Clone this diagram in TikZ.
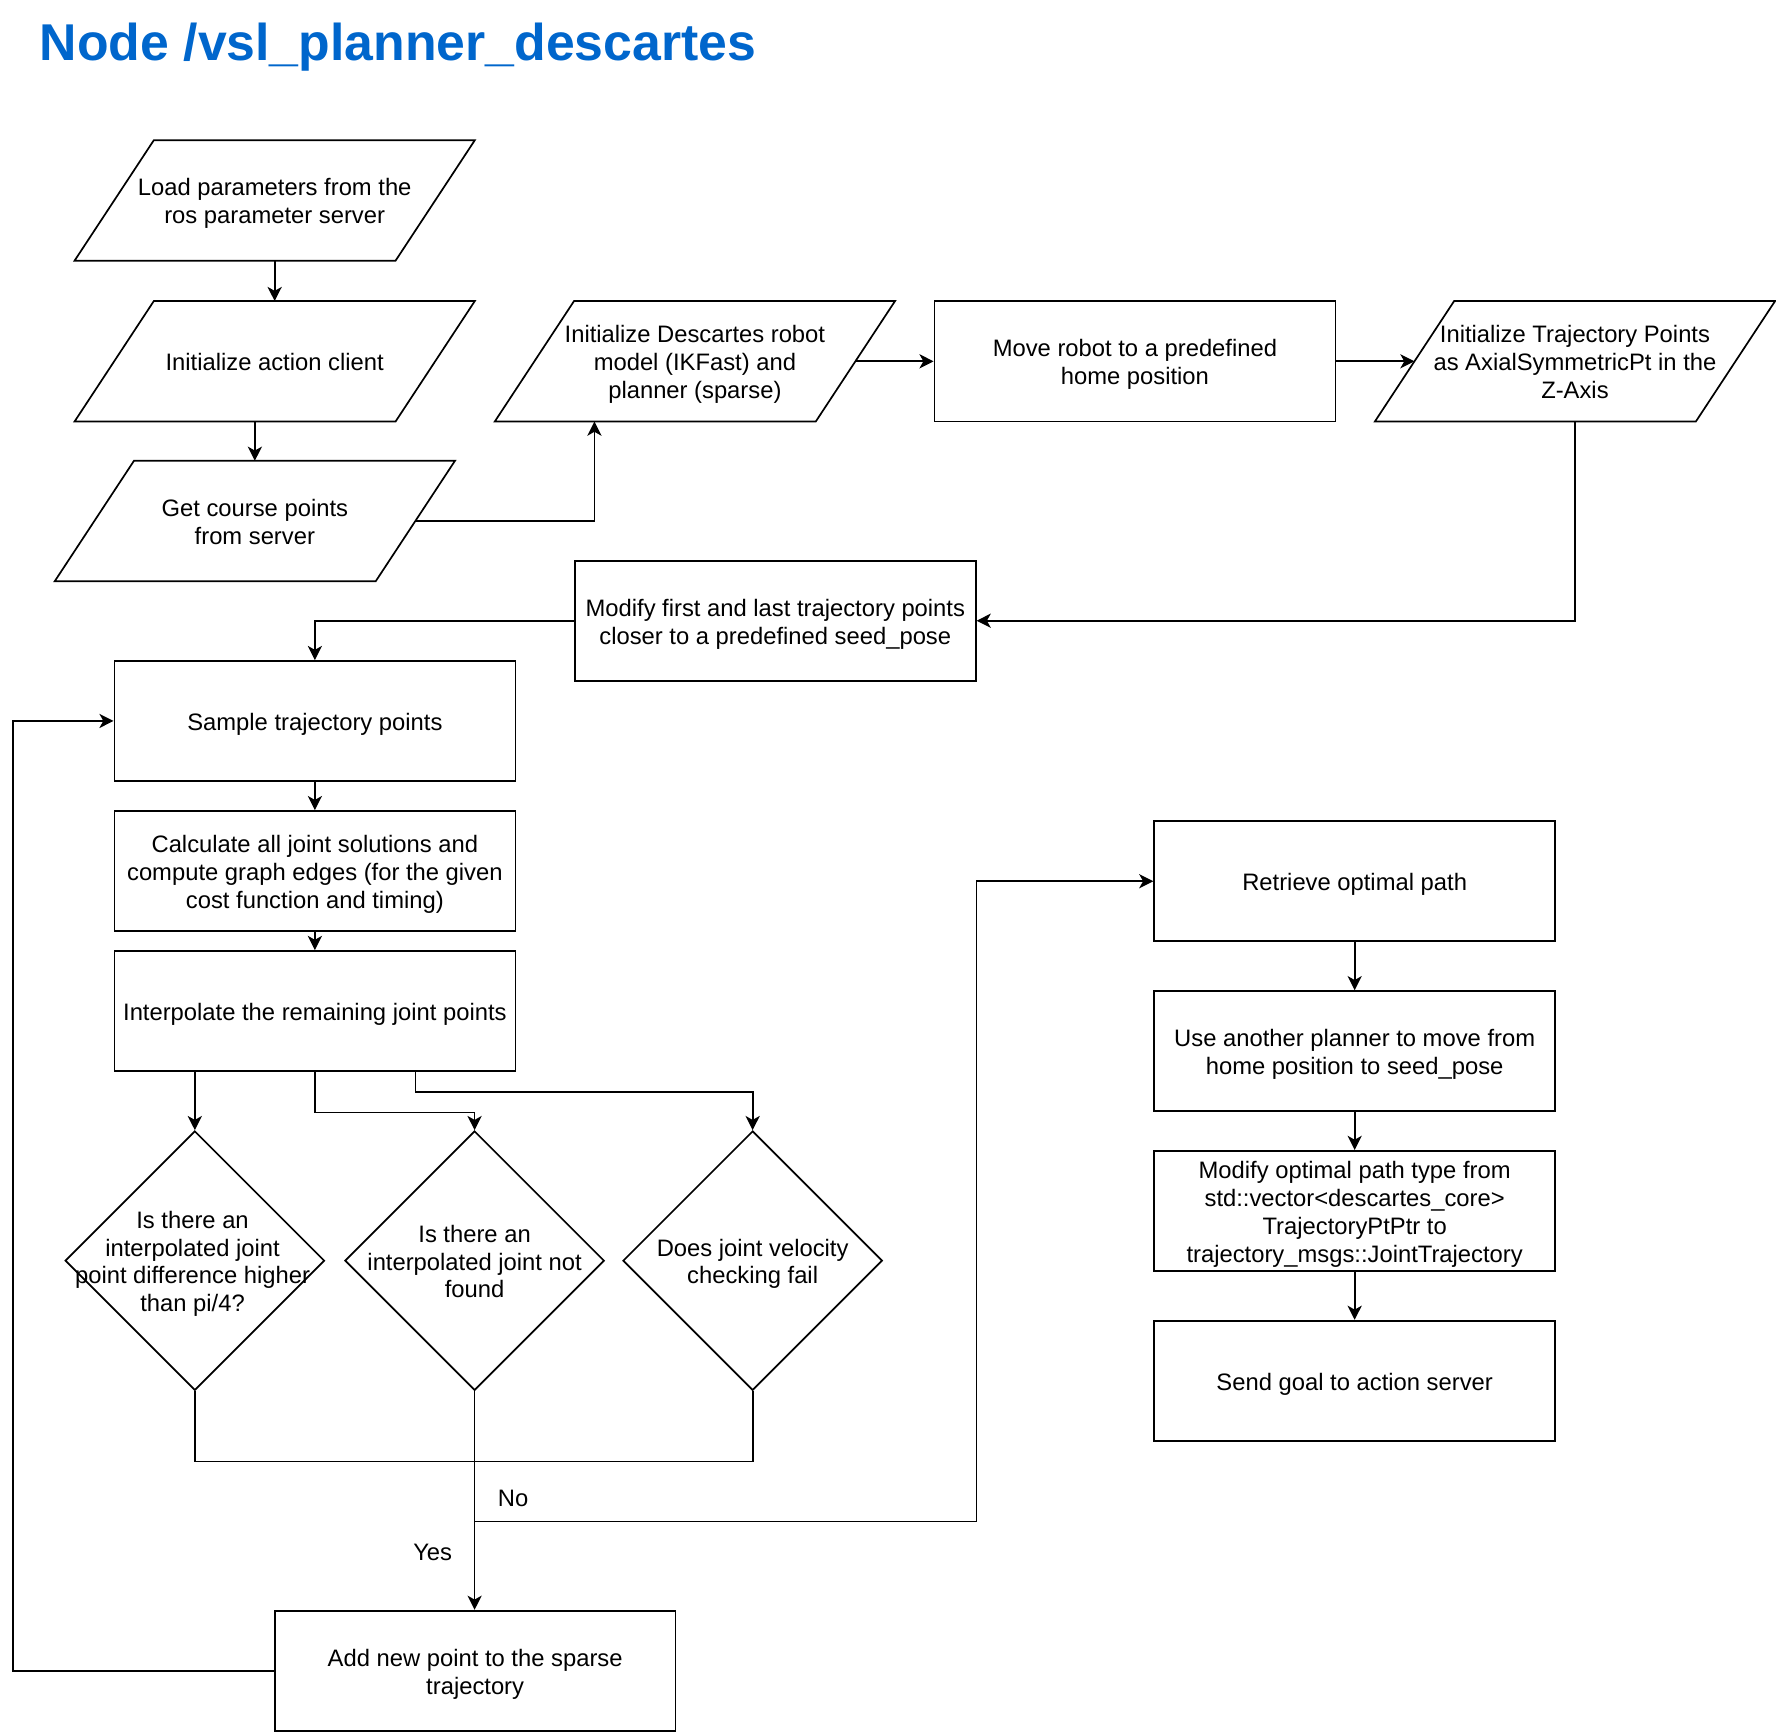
\documentclass[tikz,border=0pt]{standalone}
\usepackage{fontspec}
\setmainfont{Liberation Sans}
\usetikzlibrary{arrows.meta,calc,shapes.geometric}
\definecolor{titleblue}{RGB}{0,102,204}
\newcommand{\tstr}{\rule{0pt}{22.5pt}}
\newcommand{\bstr}{\rule[-6pt]{0pt}{0pt}}
\begin{document}
\begin{tikzpicture}[x=1pt,y=-1pt,
  every node/.style={font=\fontsize{21}{24.7}\selectfont, inner sep=0pt},
  box/.style={draw, line width=1.5pt, minimum width=354pt, minimum height=106pt, align=center},
  parabox/.style={minimum width=353pt, minimum height=106pt, align=center},
  dia/.style={draw, diamond, line width=1.5pt, minimum width=229pt, minimum height=229pt},
  line/.style={line width=1.5pt},
  arr/.style={line, -{Stealth[length=12.5pt,width=12.5pt,inset=3.5pt]}},
  para/.style={line width=1.5pt, line join=miter}
]
\useasboundingbox (0,0) rectangle (1568,1529);

\node[anchor=base west, font=\fontsize{45.7}{50}\selectfont\bfseries, text=titleblue] (title) at (35,53) {Node /vsl\_planner\_descartes};

% parallelograms
\node[parabox] (p1) at (242.5,177) {\tstr Load parameters from the\\ros parameter server\bstr};
\node[parabox] (p2) at (242.5,319) {\tstr Initialize action client\bstr};
\node[parabox] (p3) at (225,460) {\tstr Get course points\\from server\bstr};
\node[parabox] (p4) at (613.5,319) {\tstr Initialize Descartes robot\\model (IKFast) and\\planner (sparse)\bstr};
\node[box] (r5) at (1002,319) {\tstr Move robot to a predefined\\home position\bstr};
\node[parabox] (p6) at (1390.5,319) {\tstr Initialize Trajectory Points\\as AxialSymmetricPt in the\\Z-Axis\bstr};
\foreach \n in {p1,p2,p3,p4,p6}
  \draw[para] ($(\n.north west)+(70,0)$) -- (\n.north east) -- ($(\n.south east)+(-70,0)$) -- (\n.south west) -- cycle;

% rectangles
\node[box] (r7) at (684.5,548) {\tstr Modify first and last trajectory points\\closer to a predefined seed\_pose\bstr};
\node[box] (r8) at (278,636.5) {\tstr Sample trajectory points\bstr};
\node[box] (r9) at (278,769) {\tstr Calculate all joint solutions and\\compute graph edges (for the given\\cost function and timing)\bstr};
\node[box] (r10) at (278,892.5) {\tstr Interpolate the remaining joint points\bstr};

% diamonds
\node[dia] (d11) at (172,1113) {};
\node[dia] (d12) at (419,1113) {};
\node[dia] (d13) at (664.5,1113) {};
\node[align=center] (t11) at (170,1113) {\tstr Is there an\\interpolated joint\\point difference higher\\than pi/4?\bstr};
\node[align=center] (t12) at (419,1113) {\tstr Is there an\\interpolated joint not\\found\bstr};
\node[align=center] (t13) at (664.5,1113) {\tstr Does joint velocity\\checking fail\bstr};

\node[box] (r14) at (419.5,1475) {\tstr Add new point to the sparse\\trajectory\bstr};
\node[box] (r15) at (1196,778) {\tstr Retrieve optimal path\bstr};
\node[box] (r16) at (1196,928) {\tstr Use another planner to move from\\home position to seed\_pose\bstr};
\node[box] (r17) at (1196,1069) {\tstr Modify optimal path type from\\std::vector<descartes\_core>\\TrajectoryPtPtr to\\trajectory\_msgs::JointTrajectory\bstr};
\node[box] (r18) at (1196,1219) {\tstr Send goal to action server\bstr};

% connectors
\draw[arr] (p1.south) -- (p2.north);
\draw[arr] (p3.north |- p2.south) -- (p3.north);
\coordinate (p3out) at ($(p3.east)+(-35,0)$);
\coordinate (p4in) at ($(p4.south west)+(88,0)$);
\draw[arr] (p3out) -| (p4in);
\draw[arr] ($(p4.east)+(-35,0)$) -- (r5.west);
\draw[arr] (r5.east) -- ($(p6.west)+(35,0)$);
\draw[arr] (p6.south) |- (r7.east);
\draw[arr] (r7.west) -| (r8.north);
\draw[arr] (r8.south) -- (r9.north);
\draw[arr] (r9.south) -- (r10.north);
\coordinate (r10c) at ($(r10.south west)!0.75!(r10.south east)$);
\draw[arr] (d11.north |- r10.south) -- (d11.north);
\draw[arr] (r10.south) -- ++(0,36) -| (d12.north);
\draw[arr] (r10c) -- ++(0,18) -| (d13.north);
\draw[line] (d11.south) -- ++(0,62) -| (d13.south);
\draw[arr] (d12.south) -- (d12.south |- r14.north);
\coordinate (nob) at ($(d12.south)+(0,115)$);
\draw[arr] (nob) -- (nob -| r7.east) -- (r7.east |- r15.west) -- (r15.west);
\draw[arr] (r14.west) -- ++(-230,0) |- (r8.west);
\draw[arr] (r15.south) -- (r16.north);
\draw[arr] (r16.south) -- (r17.north);
\draw[arr] (r17.south) -- (r18.north);

\node (no) at (453,1321.5) {\tstr No\bstr};
\node (yes) at (382,1369.5) {\tstr Yes\bstr};
\end{tikzpicture}
\end{document}
